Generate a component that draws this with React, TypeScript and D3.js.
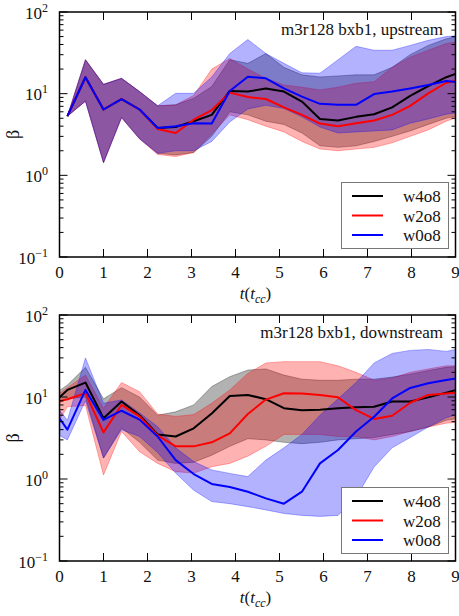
import React from "react";
import * as d3 from "d3";

// Sample times (t in units of t_cc)
const tUp = [0.18, 0.59, 1.0, 1.41, 1.82, 2.23, 2.64, 3.05, 3.46, 3.87, 4.28, 4.69, 5.1, 5.51, 5.92, 6.33, 6.74, 7.15, 7.56, 7.97, 8.38, 8.79, 9.2];
const tDown = [0, 0.18, 0.59, 1.0, 1.41, 1.82, 2.23, 2.64, 3.05, 3.46, 3.87, 4.28, 4.69, 5.1, 5.51, 5.92, 6.33, 6.74, 7.15, 7.56, 7.97, 8.38, 8.79, 9.2];

// Upstream: median beta and spread per run
const w4o8Up = [5.3, 15.9, 6.4, 8.6, 6.4, 3.8, 3.9, 4.6, 5.5, 10.8, 10.6, 11.6, 10.6, 8.0, 4.9, 4.7, 5.2, 5.6, 6.8, 9.4, 12.4, 15.9, 19];
const w4o8UpLo = [5.3, 8.1, 1.43, 5.1, 2.8, 1.86, 1.78, 1.9, 3.0, 6.0, 5.5, 4.6, 4.2, 3.3, 2.3, 2.2, 2.3, 2.6, 3.0, 3.5, 4.2, 5.0, 5.6];
const w4o8UpHi = [5.3, 26, 13, 15.4, 10.6, 7.1, 7.3, 8.8, 12.2, 26, 23.5, 31, 21, 17, 16, 16.5, 17, 17, 21, 30, 39, 47, 52];

const w2o8Up = [5.3, 15.9, 6.4, 8.6, 6.4, 3.7, 3.3, 4.8, 6.3, 10.3, 9.1, 8.6, 6.8, 5.5, 4.3, 4.0, 4.35, 4.7, 5.5, 7.1, 10.1, 13.6, 15];
const w2o8UpLo = [5.3, 8.1, 1.43, 5.1, 2.8, 1.8, 1.7, 1.9, 3.2, 5.5, 4.8, 4.0, 3.4, 2.6, 2.1, 2.0, 2.1, 2.2, 2.5, 3.0, 3.6, 4.6, 5.5];
const w2o8UpHi = [5.3, 26, 13, 15.4, 10.6, 7.1, 7.3, 9.5, 20, 27, 20, 15.4, 12.8, 12, 11.1, 12, 13.4, 14, 21, 28, 34, 41, 45];

const w0o8Up = [5.3, 15.9, 6.4, 8.6, 6.4, 3.8, 4.0, 4.35, 4.3, 10.8, 16.1, 15.4, 11.6, 9.2, 7.5, 7.3, 7.3, 9.9, 10.6, 11.6, 12.8, 14.3, 13.5];
const w0o8UpLo = [5.3, 8.1, 1.43, 5.1, 2.8, 1.86, 2.0, 2.0, 2.6, 4.5, 6.5, 7.2, 6.6, 5.2, 3.9, 3.3, 3.4, 3.5, 3.6, 4.35, 4.9, 5.6, 6.0];
const w0o8UpHi = [5.3, 26, 13, 15.4, 10.6, 7.1, 10.1, 10.1, 16, 31, 46, 31, 23.5, 18, 17.8, 26, 38, 34, 34, 39, 45, 50, 52];

// Downstream: median beta and spread per run
const w4o8Down = [9.9, 12.2, 15, 5.5, 8.8, 6.0, 3.5, 3.3, 4.15, 6.3, 10.3, 10.6, 9.4, 7.3, 6.9, 7.0, 7.3, 7.5, 7.6, 8.8, 8.8, 9.9, 11.3, 13];
const w4o8DownLo = [8.5, 9.5, 10, 1.8, 4.2, 2.8, 1.7, 1.55, 1.6, 1.95, 2.5, 3.1, 3.0, 2.8, 2.7, 2.8, 3.0, 3.1, 3.2, 3.5, 3.8, 4.3, 5.2, 5.6];
const w4o8DownHi = [12, 14, 23, 9.5, 13, 10, 6.0, 6.6, 8.0, 13.4, 17.7, 21.3, 22, 18.5, 16.5, 16, 16, 16.5, 16.5, 17.5, 19, 21, 23, 24];

const w2o8Down = [8.9, 9.4, 11.1, 3.7, 8.0, 5.8, 3.4, 2.5, 2.5, 2.8, 3.6, 6.2, 9.3, 11.1, 11.0, 10.6, 9.9, 6.9, 5.4, 5.9, 8.5, 10.6, 11, 11.5];
const w2o8DownLo = [5.3, 7.6, 7.9, 1.12, 3.8, 2.15, 1.55, 1.23, 1.18, 1.41, 1.55, 1.9, 2.5, 3.5, 3.5, 3.5, 3.3, 3.3, 3.0, 3.3, 3.8, 4.3, 4.8, 5.0];
const w2o8DownHi = [11, 13, 18.5, 7.3, 15, 11.6, 6.2, 5.8, 6.1, 8.4, 12.2, 19.4, 26, 27, 27, 27, 24, 20, 16, 17, 20, 22, 24, 24];

const w0o8Down = [5.5, 4.0, 12.2, 5.25, 6.8, 5.3, 3.3, 1.7, 1.15, 0.87, 0.8, 0.7, 0.58, 0.5, 0.7, 1.55, 2.26, 3.8, 5.75, 9.6, 12.9, 14.7, 16.1, 17.5];
const w0o8DownLo = [3.4, 3.0, 9, 1.8, 4.0, 3.3, 2.1, 1.18, 0.73, 0.53, 0.5, 0.46, 0.42, 0.38, 0.36, 0.35, 0.36, 0.6, 1.4, 2.4, 3.2, 4.3, 5.6, 6.5];
const w0o8DownHi = [6.9, 5.2, 30, 8.4, 9.2, 6.4, 4.35, 2.4, 1.63, 1.29, 1.17, 1.07, 1.7, 2.4, 3.5, 6.0, 9.5, 15, 26, 34, 37, 38, 36, 40];

const runNames = ["w4o8", "w2o8", "w0o8"];
const runColors = ["#000000", "#ff0000", "#0000ff"];

const xTicks = [0, 1, 2, 3, 4, 5, 6, 7, 8, 9];
const yMajor = [0.1, 1, 10, 100];
const yExponents = ["\u22121", "0", "1", "2"];

const FONT = "'Liberation Serif', 'DejaVu Serif', 'Times New Roman', serif";
const X0 = 59.5;
const X1 = 455.5;

type Series = { name: string; color: string; mid: number[]; lo: number[]; hi: number[] };

function Panel(props: {
  top: number;
  bottom: number;
  times: number[];
  series: Series[];
  title: string;
  legendTop: number;
  id: string;
}) {
  const { top, bottom, times, series, title, legendTop, id } = props;
  const x = d3.scaleLinear().domain([0, 9]).range([X0, X1]);
  const y = d3.scaleLog().domain([0.1, 100]).range([bottom, top]);

  const band = d3
    .area<number>()
    .x((_, i) => x(times[i]));
  const line = d3
    .line<number>()
    .x((_, i) => x(times[i]))
    .y((d) => y(d));

  const minor: number[] = [];
  for (const dec of [0.1, 1, 10]) for (let m = 2; m <= 9; m++) minor.push(dec * m);

  const midY = (top + bottom) / 2;

  return (
    <g>
      <defs>
        <clipPath id={id}>
          <rect x={X0} y={top} width={X1 - X0} height={bottom - top} />
        </clipPath>
      </defs>
      <g clipPath={`url(#${id})`}>
        {series.map((s) => {
          const a = band.y0((_, i) => y(s.lo[i])).y1((_, i) => y(s.hi[i]));
          return (
            <path
              key={"b" + s.name}
              d={a(s.mid) || ""}
              fill={s.color}
              fillOpacity={0.3}
              stroke={s.color}
              strokeOpacity={0.3}
              strokeWidth={1}
            />
          );
        })}
        {series.map((s) => (
          <path key={"l" + s.name} d={line(s.mid) || ""} fill="none" stroke={s.color} strokeWidth={2} strokeLinejoin="round" />
        ))}
      </g>

      {/* ticks, pointing inward on all four sides */}
      {xTicks.map((t) => (
        <g key={"xt" + t} stroke="#000" strokeWidth={1}>
          <line x1={x(t)} x2={x(t)} y1={bottom} y2={bottom - 8} />
          <line x1={x(t)} x2={x(t)} y1={top} y2={top + 8} />
        </g>
      ))}
      {yMajor.map((v) => (
        <g key={"ym" + v} stroke="#000" strokeWidth={1}>
          <line x1={X0} x2={X0 + 8} y1={y(v)} y2={y(v)} />
          <line x1={X1} x2={X1 - 8} y1={y(v)} y2={y(v)} />
        </g>
      ))}
      {minor.map((v) => (
        <g key={"yn" + v} stroke="#000" strokeWidth={1}>
          <line x1={X0} x2={X0 + 4} y1={y(v)} y2={y(v)} />
          <line x1={X1} x2={X1 - 4} y1={y(v)} y2={y(v)} />
        </g>
      ))}
      <rect x={X0} y={top} width={X1 - X0} height={bottom - top} fill="none" stroke="#000" strokeWidth={1.5} />

      {/* tick labels */}
      {xTicks.map((t) => (
        <text key={"xl" + t} x={x(t)} y={bottom + 21} textAnchor="middle" fontFamily={FONT} fontSize={17} fill="#111">
          {t}
        </text>
      ))}
      {yMajor.map((v, i) => (
        <text key={"yl" + v} x={48} y={y(v) + 6.5} textAnchor="end" fontFamily={FONT} fontSize={17} fill="#111">
          10
          <tspan fontSize={12} dy={-7}>
            {yExponents[i]}
          </tspan>
        </text>
      ))}

      {/* axis titles */}
      <text x={(X0 + X1) / 2 - 2} y={bottom + 42} textAnchor="middle" fontFamily={FONT} fontSize={17} fill="#111">
        <tspan fontStyle="italic">t</tspan>
        <tspan>(</tspan>
        <tspan fontStyle="italic">t</tspan>
        <tspan fontStyle="italic" fontSize={12} dy={4}>
          cc
        </tspan>
        <tspan dy={-4}>)</tspan>
      </text>
      <text
        transform={`translate(19, ${midY}) rotate(-90)`}
        textAnchor="middle"
        fontFamily={FONT}
        fontSize={18}
        fill="#111"
      >
        β
      </text>

      <text x={443} y={top + 23} textAnchor="end" fontFamily={FONT} fontSize={17} fill="#111">
        {title}
      </text>

      {/* legend */}
      <rect x={341.5} y={legendTop + 0.5} width={107} height={66} fill="#fff" stroke="#777" strokeWidth={1} />
      {series.map((s, i) => {
        const ly = legendTop + 14 + i * 19.5;
        return (
          <g key={"lg" + s.name}>
            <line x1={352} x2={383} y1={ly} y2={ly} stroke={s.color} strokeWidth={2} />
            <text x={403} y={ly + 6} fontFamily={FONT} fontSize={17} fill="#111">
              {s.name}
            </text>
          </g>
        );
      })}
    </g>
  );
}

export default function App() {
  const upSeries: Series[] = [
    { name: runNames[0], color: runColors[0], mid: w4o8Up, lo: w4o8UpLo, hi: w4o8UpHi },
    { name: runNames[1], color: runColors[1], mid: w2o8Up, lo: w2o8UpLo, hi: w2o8UpHi },
    { name: runNames[2], color: runColors[2], mid: w0o8Up, lo: w0o8UpLo, hi: w0o8UpHi },
  ];
  const downSeries: Series[] = [
    { name: runNames[0], color: runColors[0], mid: w4o8Down, lo: w4o8DownLo, hi: w4o8DownHi },
    { name: runNames[1], color: runColors[1], mid: w2o8Down, lo: w2o8DownLo, hi: w2o8DownHi },
    { name: runNames[2], color: runColors[2], mid: w0o8Down, lo: w0o8DownLo, hi: w0o8DownHi },
  ];
  return (
    <svg
      width={459}
      height={616}
      style={{ position: "absolute", left: 0, top: 0, background: "#fff" }}
    >
      <rect width={459} height={616} fill="#fff" />
      <Panel top={12} bottom={257} times={tUp} series={upSeries} title="m3r128 bxb1, upstream" legendTop={182} id="clipUp" />
      <Panel top={315} bottom={561} times={tDown} series={downSeries} title="m3r128 bxb1, downstream" legendTop={487} id="clipDown" />
    </svg>
  );
}
